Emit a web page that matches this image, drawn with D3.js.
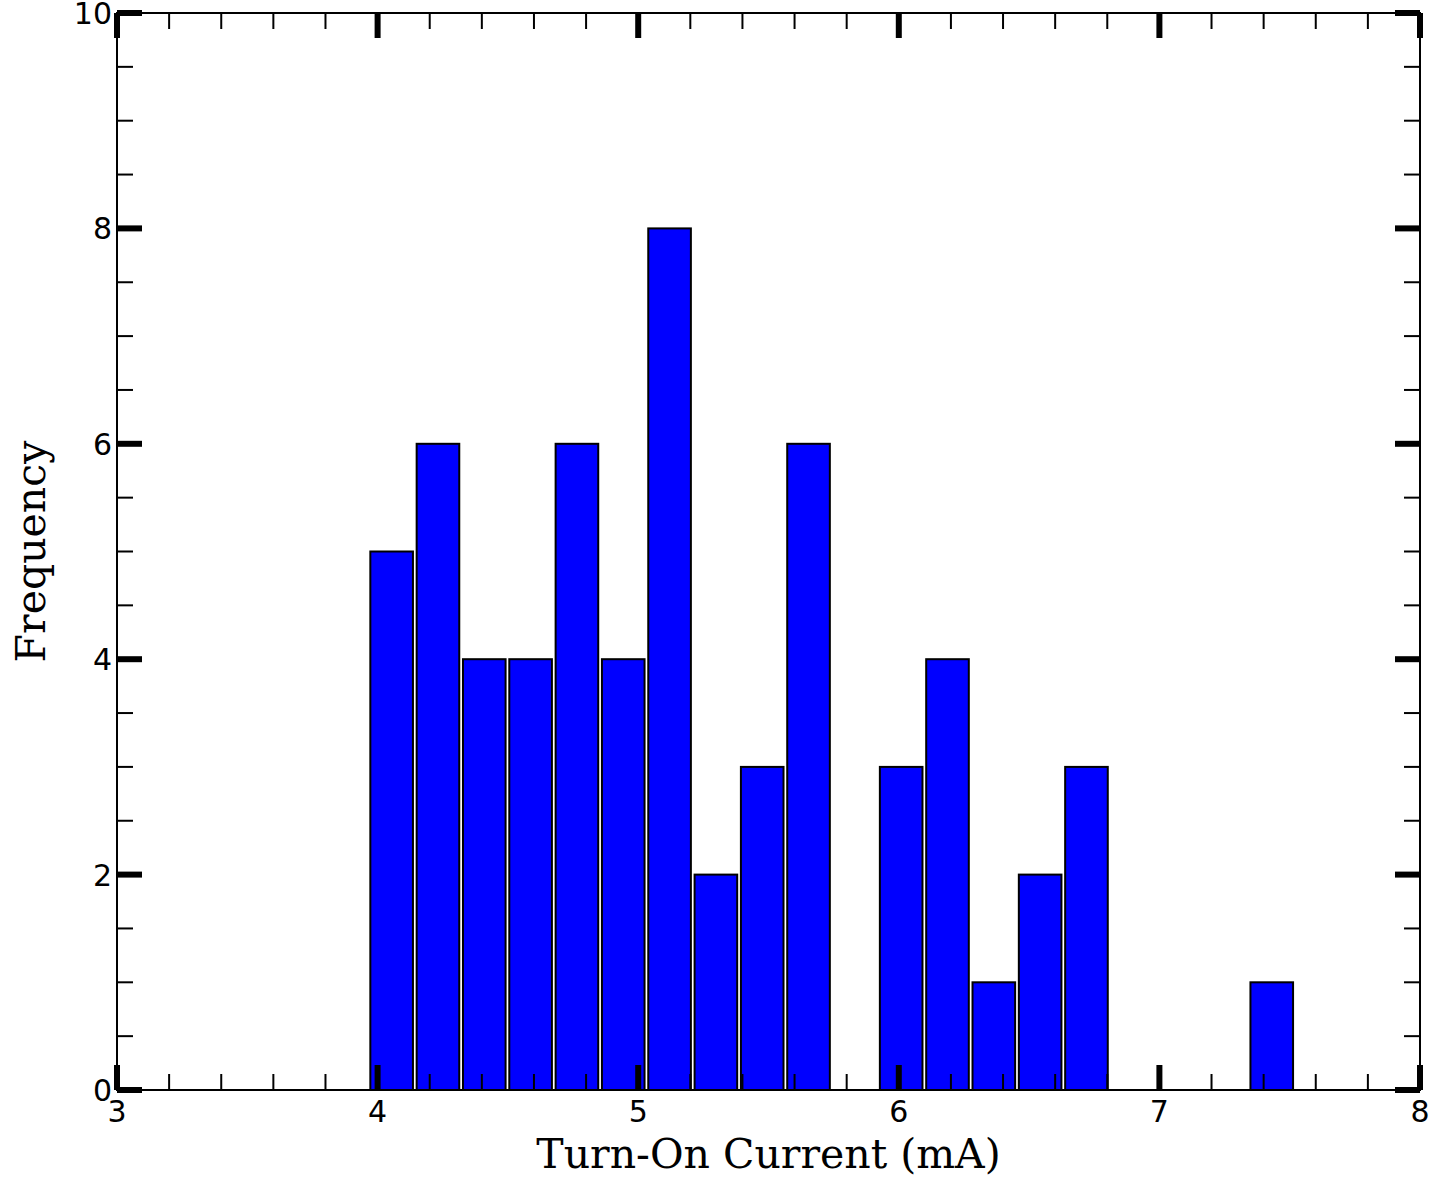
<!DOCTYPE html>
<html>
<head>
<meta charset="utf-8">
<script src="https://cdn.jsdelivr.net/npm/d3@7"></script>
<style>
  html, body { margin: 0; padding: 0; background: #fff; }
  svg { display: block; }
</style>
</head>
<body>
<div id="chart"></div>
<script>
// histogram of turn-on currents, 20 equal bins
const binStart = 3.965;
const binEnd = 7.52;
const counts = [5, 6, 4, 4, 6, 4, 8, 2, 3, 6, 0, 3, 4, 1, 2, 3, 0, 0, 0, 1];
const xTicks = [3, 4, 5, 6, 7, 8];
const yTicks = [0, 2, 4, 6, 8, 10];

const width = 1430, height = 1178;
const margin = { top: 13, right: 10, bottom: 88, left: 117 };
const iw = width - margin.left - margin.right;
const ih = height - margin.top - margin.bottom;

const svg = d3.select("#chart").append("svg")
  .attr("width", width).attr("height", height);
const g = svg.append("g").attr("transform", `translate(${margin.left},${margin.top})`);

const x = d3.scaleLinear().domain([3, 8]).range([0, iw]);
const y = d3.scaleLinear().domain([0, 10]).range([ih, 0]);

const bw = (binEnd - binStart) / counts.length;
const bins = counts.map((c, i) => ({ x0: binStart + i * bw, x1: binStart + (i + 1) * bw, c }));
const rw = 0.92;

g.append("g").selectAll("rect")
  .data(bins.filter((d) => d.c > 0))
  .join("rect")
  .attr("x", (d) => x(d.x0 + bw * (1 - rw) / 2))
  .attr("width", (d) => x(d.x0 + bw * rw) - x(d.x0))
  .attr("y", (d) => y(d.c))
  .attr("height", (d) => y(0) - y(d.c))
  .attr("fill", "#0000ff")
  .attr("stroke", "#000")
  .attr("stroke-width", 2);

// frame
g.append("rect").attr("width", iw).attr("height", ih)
  .attr("fill", "none").attr("stroke", "#000").attr("stroke-width", 2);

const ticks = g.append("g").attr("stroke", "#000");
const majLen = 25, minLen = 16;

// x ticks, bottom and top, inward
const xMinor = d3.range(3, 8.001, 0.2).filter((v) => Math.abs(v - Math.round(v)) > 1e-6);
xMinor.forEach((v) => {
  ticks.append("line").attr("x1", x(v)).attr("x2", x(v)).attr("y1", ih).attr("y2", ih - minLen).attr("stroke-width", 2);
  ticks.append("line").attr("x1", x(v)).attr("x2", x(v)).attr("y1", 0).attr("y2", minLen).attr("stroke-width", 2);
});
xTicks.forEach((v) => {
  ticks.append("line").attr("x1", x(v)).attr("x2", x(v)).attr("y1", ih).attr("y2", ih - majLen).attr("stroke-width", 6);
  ticks.append("line").attr("x1", x(v)).attr("x2", x(v)).attr("y1", 0).attr("y2", majLen).attr("stroke-width", 6);
});

// y ticks, left and right, inward
const yMinor = d3.range(0, 10.001, 0.5).filter((v) => Math.abs(v / 2 - Math.round(v / 2)) > 1e-6);
yMinor.forEach((v) => {
  ticks.append("line").attr("y1", y(v)).attr("y2", y(v)).attr("x1", 0).attr("x2", minLen).attr("stroke-width", 2);
  ticks.append("line").attr("y1", y(v)).attr("y2", y(v)).attr("x1", iw).attr("x2", iw - minLen).attr("stroke-width", 2);
});
yTicks.forEach((v) => {
  ticks.append("line").attr("y1", y(v)).attr("y2", y(v)).attr("x1", 0).attr("x2", majLen).attr("stroke-width", 6);
  ticks.append("line").attr("y1", y(v)).attr("y2", y(v)).attr("x1", iw).attr("x2", iw - majLen).attr("stroke-width", 6);
});

// tick labels
const tickFont = "'DejaVu Sans', sans-serif";
g.append("g").selectAll("text").data(xTicks).join("text")
  .attr("x", (d) => x(d)).attr("y", ih + 32)
  .attr("text-anchor", "middle")
  .style("font", `30px ${tickFont}`)
  .text((d) => d);

g.append("g").selectAll("text").data(yTicks).join("text")
  .attr("x", -5).attr("y", (d) => y(d) + 11)
  .attr("text-anchor", "end")
  .style("font", `30px ${tickFont}`)
  .text((d) => d);

// axis titles
const titleFont = "'DejaVu Serif', serif";
g.append("text")
  .attr("x", x(5.5)).attr("y", ih + 78)
  .attr("text-anchor", "middle")
  .style("font", `41px ${titleFont}`)
  .text("Turn-On Current (mA)");

g.append("text")
  .attr("transform", `translate(${-72},${y(5.0)}) rotate(-90)`)
  .attr("text-anchor", "middle")
  .style("font", `41px ${titleFont}`)
  .text("Frequency");
</script>
</body>
</html>
